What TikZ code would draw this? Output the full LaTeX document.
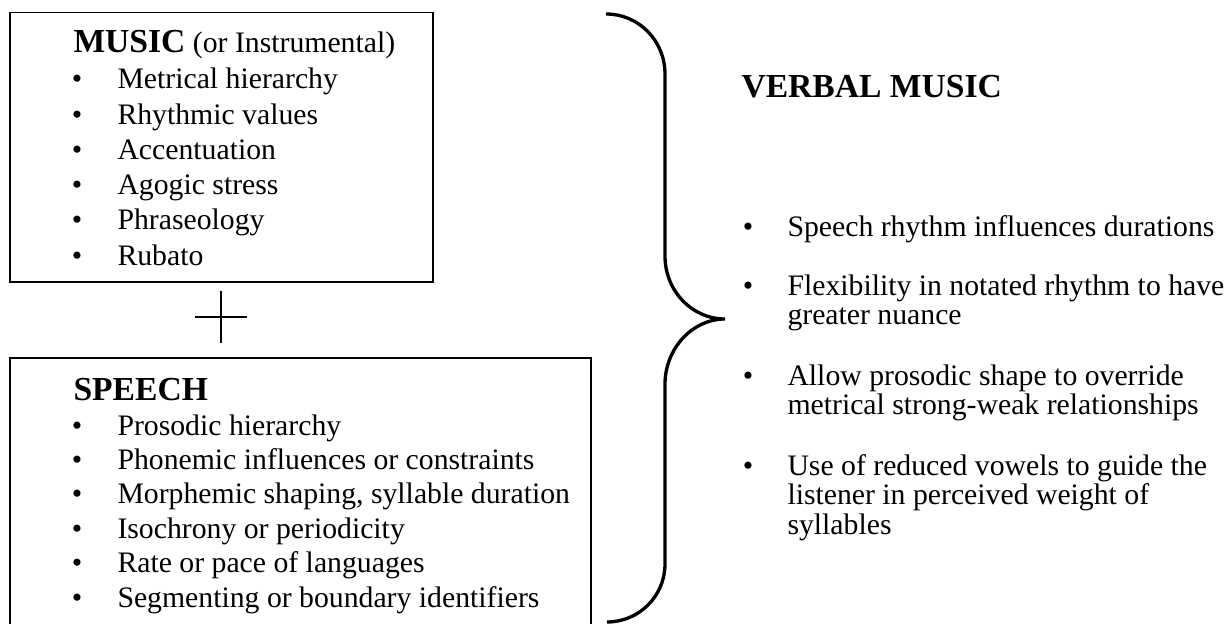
\documentclass[tikz,border=0pt]{standalone}
\usepackage{fontspec}
\setmainfont{Liberation Serif}
\newcommand{\itemsize}{\fontsize{22.3}{26}\selectfont}
\newcommand{\headsize}{\fontsize{25.2}{30}\selectfont\bfseries}

\tikzset{every picture/.style={line width=0.75pt}}

\begin{document}
\begin{tikzpicture}[x=0.75pt,y=0.75pt,yscale=-1,xscale=1]
	\useasboundingbox (0,0) rectangle (1228,624);
	
	%Shape: Rectangle [id:music box]
	\draw  [line width=1pt]  (10,12.7) -- (433,12.7) -- (433,282) -- (10,282) -- cycle ;
	%Shape: Rectangle [id:speech box]
	\draw  [line width=1pt]  (10,358) -- (591,358) -- (591,626) -- (10,626) -- cycle ;
	%Straight Lines [id:plus horizontal]
	\draw  [line width=2pt]  (195,317) -- (247,317) ;
	%Straight Lines [id:plus vertical]
	\draw  [line width=2pt]  (221,291) -- (221,343) ;
	%Shape: Brace [id:verbal brace]
	\draw  [line width=2.5pt]  (606,14) .. controls (639,14) and (665,41) .. (665,74) -- (665,256) .. controls (665,291) and (692,319) .. (725,319) .. controls (692,319) and (665,349) .. (665,384) -- (665,564) .. controls (665,596) and (639,622) .. (607,622) ;
	
	% Text Node
	\draw (72,53) node (musichead) [anchor=base west][inner sep=0.75pt]    {{\headsize MUSIC}{\itemsize\ (or Instrumental)}};
	% Text Node
	\draw (77,89) node (mb1) [anchor=base][inner sep=0.75pt]    {\itemsize •};
	\draw (116,89) node (m1) [anchor=base west][inner sep=0.75pt]    {\itemsize Metrical hierarchy};
	% Text Node
	\draw (77,124.2) node (mb2) [anchor=base][inner sep=0.75pt]    {\itemsize •};
	\draw (116,124.2) node (m2) [anchor=base west][inner sep=0.75pt]    {\itemsize Rhythmic values};
	% Text Node
	\draw (77,159.4) node (mb3) [anchor=base][inner sep=0.75pt]    {\itemsize •};
	\draw (116,159.4) node (m3) [anchor=base west][inner sep=0.75pt]    {\itemsize Accentuation};
	% Text Node
	\draw (77,194.6) node (mb4) [anchor=base][inner sep=0.75pt]    {\itemsize •};
	\draw (116,194.6) node (m4) [anchor=base west][inner sep=0.75pt]    {\itemsize Agogic stress};
	% Text Node
	\draw (77,229.8) node (mb5) [anchor=base][inner sep=0.75pt]    {\itemsize •};
	\draw (116,229.8) node (m5) [anchor=base west][inner sep=0.75pt]    {\itemsize Phraseology};
	% Text Node
	\draw (77,265) node (mb6) [anchor=base][inner sep=0.75pt]    {\itemsize •};
	\draw (116,265) node (m6) [anchor=base west][inner sep=0.75pt]    {\itemsize Rubato};
	
	% Text Node
	\draw (72,400) node (speechhead) [anchor=base west][inner sep=0.75pt]    {\headsize SPEECH};
	% Text Node
	\draw (77,435) node (sb1) [anchor=base][inner sep=0.75pt]    {\itemsize •};
	\draw (116,435) node (s1) [anchor=base west][inner sep=0.75pt]    {\itemsize Prosodic hierarchy};
	% Text Node
	\draw (77,469.4) node (sb2) [anchor=base][inner sep=0.75pt]    {\itemsize •};
	\draw (116,469.4) node (s2) [anchor=base west][inner sep=0.75pt]    {\itemsize Phonemic influences or constraints};
	% Text Node
	\draw (77,503.8) node (sb3) [anchor=base][inner sep=0.75pt]    {\itemsize •};
	\draw (116,503.8) node (s3) [anchor=base west][inner sep=0.75pt]    {\itemsize Morphemic shaping, syllable duration};
	% Text Node
	\draw (77,538.2) node (sb4) [anchor=base][inner sep=0.75pt]    {\itemsize •};
	\draw (116,538.2) node (s4) [anchor=base west][inner sep=0.75pt]    {\itemsize Isochrony or periodicity};
	% Text Node
	\draw (77,572.6) node (sb5) [anchor=base][inner sep=0.75pt]    {\itemsize •};
	\draw (116,572.6) node (s5) [anchor=base west][inner sep=0.75pt]    {\itemsize Rate or pace of languages};
	% Text Node
	\draw (77,607) node (sb6) [anchor=base][inner sep=0.75pt]    {\itemsize •};
	\draw (116,607) node (s6) [anchor=base west][inner sep=0.75pt]    {\itemsize Segmenting or boundary identifiers};
	
	% Text Node
	\draw (740,98) node (verbalhead) [anchor=base west][inner sep=0.75pt]    {\headsize VERBAL MUSIC};
	% Text Node
	\draw (748,236) node (vb1) [anchor=base][inner sep=0.75pt]    {\itemsize •};
	\draw (786,236) node (v1) [anchor=base west][inner sep=0.75pt]    {\itemsize Speech rhythm influences durations};
	% Text Node
	\draw (748,295) node (vb2) [anchor=base][inner sep=0.75pt]    {\itemsize •};
	\draw (786,295) node (v2) [anchor=base west][inner sep=0.75pt]    {\itemsize Flexibility in notated rhythm to have};
	\draw (786,324.5) node (v2b) [anchor=base west][inner sep=0.75pt]    {\itemsize greater nuance};
	% Text Node
	\draw (748,385) node (vb3) [anchor=base][inner sep=0.75pt]    {\itemsize •};
	\draw (786,385) node (v3) [anchor=base west][inner sep=0.75pt]    {\itemsize Allow prosodic shape to override};
	\draw (786,414.5) node (v3b) [anchor=base west][inner sep=0.75pt]    {\itemsize metrical strong-weak relationships};
	% Text Node
	\draw (748,475) node (vb4) [anchor=base][inner sep=0.75pt]    {\itemsize •};
	\draw (786,475) node (v4) [anchor=base west][inner sep=0.75pt]    {\itemsize Use of reduced vowels to guide the};
	\draw (786,504.5) node (v4b) [anchor=base west][inner sep=0.75pt]    {\itemsize listener in perceived weight of};
	\draw (786,534) node (v4c) [anchor=base west][inner sep=0.75pt]    {\itemsize syllables};
	
\end{tikzpicture}
\end{document}
